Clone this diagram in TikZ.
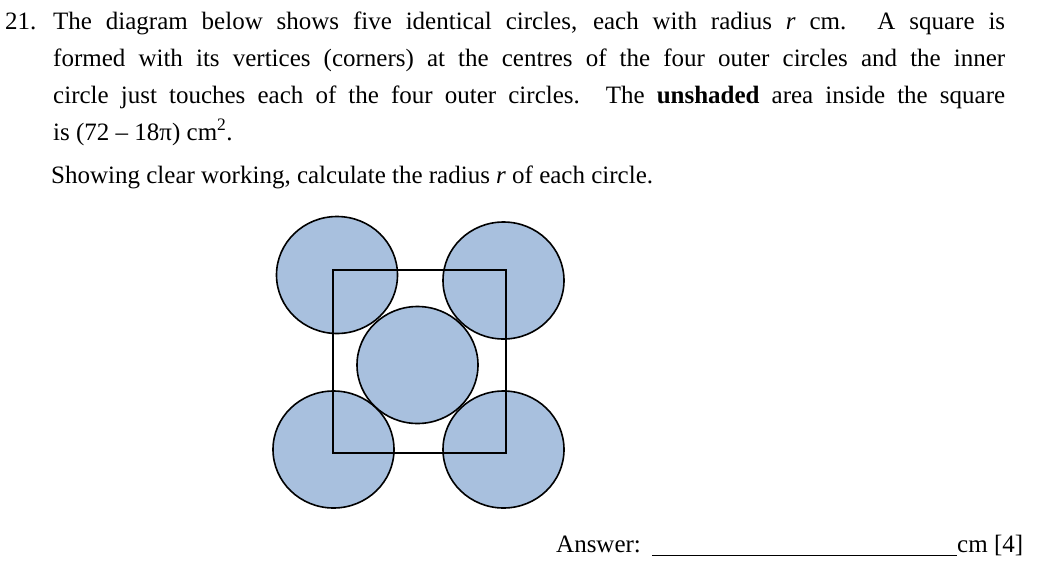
\documentclass[tikz,border=0pt]{standalone}
\usepackage{fontspec}
\setmainfont{Liberation Serif}
\begin{document}
\begin{tikzpicture}[x=1pt,y=-1pt,
  circ/.style={draw=black,line width=1.6pt,fill=blue!30!gray!55!white,fill=circfill},
  txt/.style={anchor=base west,inner sep=0pt,font=\fontsize{25}{37}\selectfont}]
\definecolor{circfill}{RGB}{168,192,222}
\useasboundingbox (0,0) rectangle (1038,570);
\draw[circ] (337,275) ellipse (60.5 and 58.5);
\draw[circ] (503.5,280.5) ellipse (60.5 and 58.5);
\draw[circ] (417.5,365) ellipse (60.5 and 58.5);
\draw[circ] (333.5,449.5) ellipse (60.5 and 58.5);
\draw[circ] (503.5,449.5) ellipse (60.5 and 58.5);
\draw[line width=1.6pt] (333,270) rectangle (506,453);
\node[txt] (n) at (5,29) {21.};
\node[txt] (l1) at (53,29) {\makebox[952pt][s]{The diagram below shows five identical circles, each with radius \textit{r} cm. A square is}};
\node[txt] (l2) at (53,66) {\makebox[952pt][s]{formed with its vertices (corners) at the centres of the four outer circles and the inner}};
\node[txt] (l3) at (53,103) {\makebox[952pt][s]{circle just touches each of the four outer circles. The \textbf{unshaded} area inside the square}};
\node[txt] (l4) at (53,140) {is (72 – 18π) cm\textsuperscript{2}.};
\node[txt] (l5) at (51,183) {Showing clear working, calculate the radius \textit{r} of each circle.};
\node[txt] (a) at (556,552) {Answer:};
\draw[line width=1pt] (652,555) -- (957,555);
\node[txt] (cm) at (957,552) {cm [4]};
\end{tikzpicture}
\end{document}
